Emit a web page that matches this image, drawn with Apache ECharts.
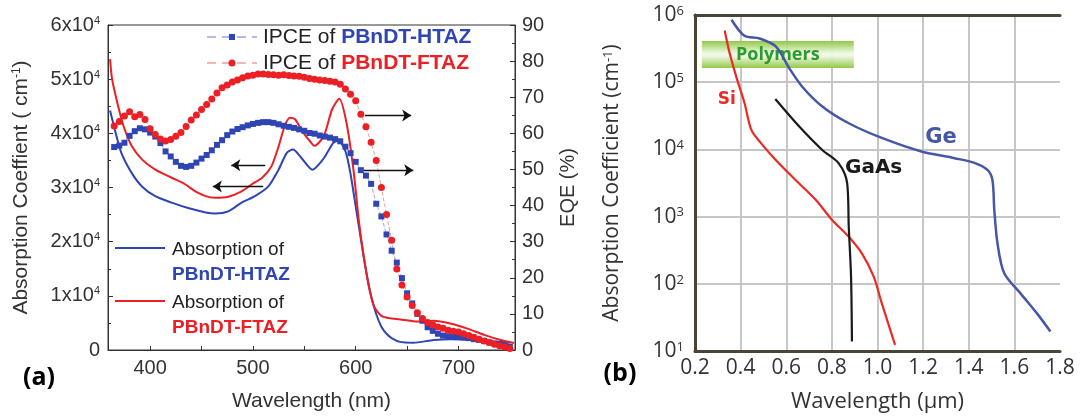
<!DOCTYPE html>
<html>
<head>
<meta charset="utf-8">
<script src="https://cdn.jsdelivr.net/npm/echarts@6/dist/echarts.min.js"></script>
<style>
html,body{margin:0;padding:0;background:#fff;}
#main{width:1081px;height:419px;}
</style>
</head>
<body>
<div id="main"></div>
<script>
// ---------- Panel (a) data ----------
const ipceWavelength = [365,370,375,380,385,390,395,400,405,410,415,420,425,430,435,440,445,450,455,460,465,470,475,480,485,490,495,500,505,510,515,520,525,530,535,540,545,550,555,560,565,570,575,580,585,590,595,600,605,610,615,620,625,630,635,640,645,650,655,660,665,670,675,680,685,690,695,700,705,710,715,720,725,730,735,740,745,750];
const ipceHTAZ = [56.2,56.6,57.4,59.3,60.6,61.4,61.1,60.2,59.1,57.3,55.0,53.6,52.1,51.0,50.7,51.0,51.9,53.0,54.0,55.3,56.8,58.1,59.5,60.5,61.2,61.7,62.2,62.6,62.9,63.1,63.1,62.9,62.5,62.1,61.8,61.5,61.1,60.7,60.1,59.9,59.4,59.1,58.8,58.4,57.8,56.3,54.5,52.1,49.8,48.3,46.0,40.5,37.0,32.0,27.5,24.2,19.9,15.7,12.9,10.0,8.1,6.3,5.3,4.5,4.0,3.8,3.7,3.7,3.5,3.3,3.0,2.8,2.5,2.1,1.8,1.5,1.2,0.9];
const ipceFTAZ = [62.0,63.3,64.8,66.0,64.6,65.2,63.8,61.3,59.7,58.4,57.9,58.3,59.2,60.2,61.9,63.7,65.1,66.6,68.0,69.5,71.2,72.6,73.4,74.2,74.8,75.4,75.9,76.1,76.4,76.4,76.3,76.2,76.1,76.2,76.0,75.9,75.8,75.5,75.2,75.0,74.8,74.6,74.4,74.2,73.6,72.3,70.8,69.0,65.3,61.8,57.5,52.5,45.0,37.5,30.4,22.4,18.0,14.7,12.3,10.3,8.7,7.6,7.0,6.4,6.0,5.5,5.2,5.0,4.5,4.0,3.5,3.0,2.5,2.1,1.6,1.2,0.8,0.4];

const absWavelengthHTAZ = [361,366,372,382,392,405,421,437,454,463,476,489,502,515,525,533,539,547,558,569,578,583,590,595,600,605,610,615,620,625,630,635,643,656,676,692,715,734,750];
const absHTAZ = [44200,40400,36400,32700,30200,28400,27200,26200,25400,25200,25600,27200,28400,30200,33300,36400,37000,35500,33300,35400,38200,38700,36700,32500,26500,20500,14800,10000,6600,4300,3000,2200,1500,1350,1850,2000,1850,1550,1350];

const absWavelengthFTAZ = [361,363,368,374,382,392,405,421,434,444,454,463,476,489,499,509,518,525,531,536,541,548,554,560,569,577,584,591,598,603,608,613,618,625,635,645,660,676,692,708,725,741,754];
const absFTAZ = [53700,50000,45700,41400,37700,35200,33300,31800,30600,29300,28400,28100,28300,29300,30600,31800,33900,37600,41400,42900,42600,40400,38900,37700,39500,44400,46400,42000,33000,24000,17000,11500,8000,6300,5800,5600,5250,5400,4900,4000,2800,1850,1300];

// arrows: [fromWavelength, toWavelength, absorption level]
const arrowsA = [[609,654,43300],[608,656,33200],[512,479,34100],[510,461,30200]];

const xTicksA = [400,450,500,550,600,650,700,750];
const xLabelsA = [400,500,600,700];

// ---------- Panel (b) data ----------
const geWavelength = [0.36,0.417,0.483,0.555,0.613,0.671,0.758,0.874,1.019,1.193,1.338,1.425,1.483,1.504,1.512,1.526,1.555,1.627,1.70,1.758];
const geAbs = [851000,490000,447000,339000,162000,85000,43600,24500,14800,9300,7400,6300,4900,3470,1260,400,145,72,36,19.5];
const siWavelength = [0.33,0.352,0.381,0.417,0.447,0.49,0.555,0.642,0.729,0.801,0.874,0.932,0.983,1.019,1.077];
const siAbs = [589000,269000,120000,49000,19500,12300,6900,3470,1780,891,501,282,129,51,12.3];
const gaasWavelength = [0.552,0.657,0.758,0.83,0.867,0.874,0.884,0.888];
const gaasAbs = [56200,21900,9800,6200,3160,708,129,13.8];

// Polymers band [x1, y1, x2, y2] and text label positions
const polymerBand = [0.23, 410000, 0.896, 162000];
const labelSi = [0.339, 54300];
const labelGaAs = [0.983, 5250];
const labelGe = [1.278, 15100];

const zip = (xs, ys) => xs.map((x, i) => [x, ys[i]]);

const FA = "'Liberation Sans', Arial, sans-serif";
const FB = "'Open Sans', 'DejaVu Sans', sans-serif";
const BLUE = '#2e45b3';
const RED = '#ec1f24';

const chart = echarts.init(document.getElementById('main'));

const option = {
  animation: false,
  backgroundColor: '#fff',
  grid: [
    {left: 108, top: 25, width: 407, height: 325, show: true, borderColor: '#333', borderWidth: 1, containLabel: false},
    {left: 695, top: 15, width: 365, height: 336, show: false, containLabel: false}
  ],
  xAxis: [
    {
      gridIndex: 0, type: 'value', min: 359, max: 755,
      axisLine: {lineStyle: {color: '#333', width: 1}},
      axisTick: {inside: true, length: 4, customValues: xTicksA, lineStyle: {color: '#333'}},
      axisLabel: {customValues: xLabelsA, fontSize: 20, fontFamily: FA, color: '#333', margin: 8},
      splitLine: {show: false},
      name: 'Wavelength (nm)', nameLocation: 'middle', nameGap: 41,
      nameTextStyle: {fontSize: 21, fontFamily: FA, color: '#333'}
    },
    {
      gridIndex: 1, type: 'value', min: 0.2, max: 1.8, interval: 0.2,
      axisLine: {lineStyle: {color: '#4a4336', width: 3}},
      axisTick: {show: false},
      axisLabel: {fontSize: 21, fontFamily: FB, color: '#333', margin: 7, formatter: v => v.toFixed(1)},
      splitLine: {show: true, showMaxLine: false, lineStyle: {color: '#c6c6c6', width: 2}},
      name: 'Wavelength (μm)', nameLocation: 'middle', nameGap: 40,
      nameTextStyle: {fontSize: 22, fontFamily: FB, color: '#333'}
    },
    {
      gridIndex: 1, type: 'value', min: 0.2, max: 1.8, position: 'top',
      axisLine: {lineStyle: {color: '#4a4336', width: 3}},
      axisTick: {show: false}, axisLabel: {show: false}, splitLine: {show: false}
    }
  ],
  yAxis: [
    {
      gridIndex: 0, type: 'value', min: 0, max: 60000, interval: 10000, position: 'left',
      axisLine: {show: true, lineStyle: {color: '#333', width: 1}},
      axisTick: {show: true, inside: true, length: 5, lineStyle: {color: '#333'}},
      minorTick: {show: true, splitNumber: 2, length: 3, lineStyle: {color: '#333'}},
      splitLine: {show: false},
      axisLabel: {
        fontSize: 20, fontFamily: FA, color: '#333', margin: 8,
        formatter: v => v === 0 ? '0' : (v / 10000) + 'x10{s|4}',
        rich: {s: {fontSize: 11, fontFamily: FA, color: '#333', verticalAlign: 'top'}}
      },
      name: 'Absorption Coeffient ( cm{s|-1})', nameLocation: 'middle', nameGap: 76, nameRotate: 90,
      nameTextStyle: {fontSize: 21, fontFamily: FA, color: '#333', rich: {s: {fontSize: 12, fontFamily: FA, color: '#333', verticalAlign: 'top'}}}
    },
    {
      gridIndex: 0, type: 'value', min: 0, max: 90, interval: 10, position: 'right',
      axisLine: {show: true, lineStyle: {color: '#333', width: 1}},
      axisTick: {show: true, inside: true, length: 5, lineStyle: {color: '#333'}},
      minorTick: {show: true, splitNumber: 2, length: 3, lineStyle: {color: '#333'}},
      splitLine: {show: false},
      axisLabel: {fontSize: 20, fontFamily: FA, color: '#333', margin: 7},
      name: 'EQE (%)', nameLocation: 'middle', nameGap: 43, nameRotate: 90,
      nameTextStyle: {fontSize: 20, fontFamily: FA, color: '#333'}
    },
    {
      gridIndex: 1, type: 'log', logBase: 10, min: 10, max: 1000000,
      axisLine: {show: true, lineStyle: {color: '#4a4336', width: 3}},
      axisTick: {show: false},
      splitLine: {show: true, lineStyle: {color: '#c6c6c6', width: 2}},
      axisLabel: {
        fontSize: 21, fontFamily: FB, color: '#333', margin: 11,
        formatter: v => '10{s|' + Math.round(Math.log10(v)) + '}',
        rich: {s: {fontSize: 13, fontFamily: FB, color: '#333', verticalAlign: 'top'}}
      },
      name: 'Absorption Coefficient (cm{s|-1})', nameLocation: 'middle', nameGap: 72, nameRotate: 90,
      nameTextStyle: {fontSize: 21, fontFamily: FB, color: '#333', rich: {s: {fontSize: 13, fontFamily: FB, color: '#333', verticalAlign: 'top'}}}
    }
  ],
  series: [
    {
      name: 'Absorption of PBnDT-HTAZ', type: 'line', xAxisIndex: 0, yAxisIndex: 0,
      data: zip(absWavelengthHTAZ, absHTAZ), symbol: 'none', smooth: 0.25,
      lineStyle: {color: BLUE, width: 2}, z: 2,
      markLine: {
        silent: true, symbol: ['none', 'arrow'], symbolSize: 9,
        label: {show: false},
        lineStyle: {color: '#111', width: 1.3, type: 'solid'},
        emphasis: {disabled: true},
        data: arrowsA.map(a => [{coord: [a[0], a[2]]}, {coord: [a[1], a[2]]}])
      }
    },
    {
      name: 'Absorption of PBnDT-FTAZ', type: 'line', xAxisIndex: 0, yAxisIndex: 0,
      data: zip(absWavelengthFTAZ, absFTAZ), symbol: 'none', smooth: 0.25,
      lineStyle: {color: RED, width: 2}, z: 2
    },
    {
      name: 'IPCE of PBnDT-HTAZ', type: 'line', xAxisIndex: 0, yAxisIndex: 1,
      data: zip(ipceWavelength, ipceHTAZ), symbol: 'rect', symbolSize: 6, showAllSymbol: true,
      lineStyle: {color: '#9ba4e2', width: 1, type: 'dashed'}, itemStyle: {color: BLUE}, z: 3
    },
    {
      name: 'IPCE of PBnDT-FTAZ', type: 'line', xAxisIndex: 0, yAxisIndex: 1,
      data: zip(ipceWavelength, ipceFTAZ), symbol: 'circle', symbolSize: 7, showAllSymbol: true,
      lineStyle: {color: '#f29a9a', width: 1, type: 'dashed'}, itemStyle: {color: RED}, z: 3
    },
    {
      name: 'Ge', type: 'line', xAxisIndex: 1, yAxisIndex: 2,
      data: zip(geWavelength, geAbs), symbol: 'none', smooth: 0.3,
      lineStyle: {color: '#4657a8', width: 2.5},
      markPoint: {
        symbol: 'circle', symbolSize: 0, silent: true,
        label: {show: true, position: 'inside', formatter: 'Ge', color: '#4657a8', fontWeight: 'bold', fontSize: 21, fontFamily: "'DejaVu Sans', sans-serif"},
        data: [{coord: labelGe}]
      }
    },
    {
      name: 'Si', type: 'line', xAxisIndex: 1, yAxisIndex: 2,
      data: zip(siWavelength, siAbs), symbol: 'none', smooth: 0.3,
      lineStyle: {color: '#ec2a24', width: 2.2},
      markPoint: {
        symbol: 'circle', symbolSize: 0, silent: true,
        label: {show: true, position: 'inside', formatter: 'Si', color: '#ec2a24', fontWeight: 'bold', fontSize: 17, fontFamily: "'DejaVu Sans', sans-serif"},
        data: [{coord: labelSi}]
      },
      markArea: {
        silent: true,
        itemStyle: {
          color: new echarts.graphic.LinearGradient(0, 0, 0, 1, [
            {offset: 0, color: '#8cc63e'},
            {offset: 0.45, color: '#eef8e2'},
            {offset: 0.55, color: '#eef8e2'},
            {offset: 1, color: '#8cc63e'}
          ]),
          opacity: 0.95
        },
        label: {show: true, position: 'inside', formatter: 'Polymers', color: '#2c9a2c', fontWeight: 'bold', fontSize: 18, fontFamily: FB},
        data: [[{coord: [polymerBand[0], polymerBand[1]]}, {coord: [polymerBand[2], polymerBand[3]]}]]
      }
    },
    {
      name: 'GaAs', type: 'line', xAxisIndex: 1, yAxisIndex: 2,
      data: zip(gaasWavelength, gaasAbs), symbol: 'none', smooth: 0.3,
      lineStyle: {color: '#1a1a1a', width: 2.2},
      markPoint: {
        symbol: 'circle', symbolSize: 0, silent: true,
        label: {show: true, position: 'inside', formatter: 'GaAs', color: '#1a1a1a', fontWeight: 'bold', fontSize: 20, fontFamily: "'DejaVu Sans', sans-serif"},
        data: [{coord: labelGaAs}]
      }
    }
  ],
  graphic: [
    // IPCE legend
    {type: 'line', shape: {x1: 207, y1: 37, x2: 257, y2: 37}, style: {stroke: '#9ba4e2', lineWidth: 1.5, lineDash: [9, 6]}, z: 10},
    {type: 'rect', shape: {x: 229, y: 34, width: 6, height: 6}, style: {fill: BLUE}, z: 11},
    {type: 'text', x: 263, y: 37, z: 11, style: {text: '{a|IPCE of }{b|PBnDT-HTAZ}', verticalAlign: 'middle',
      rich: {a: {fontSize: 21, fontFamily: FA, fill: '#222'}, b: {fontSize: 21, fontFamily: FA, fontWeight: 'bold', fill: BLUE}}}},
    {type: 'line', shape: {x1: 207, y1: 63, x2: 257, y2: 63}, style: {stroke: '#f29a9a', lineWidth: 1.5, lineDash: [9, 6]}, z: 10},
    {type: 'circle', shape: {cx: 232, cy: 63, r: 3.5}, style: {fill: RED}, z: 11},
    {type: 'text', x: 263, y: 63, z: 11, style: {text: '{a|IPCE of }{b|PBnDT-FTAZ}', verticalAlign: 'middle',
      rich: {a: {fontSize: 21, fontFamily: FA, fill: '#222'}, b: {fontSize: 21, fontFamily: FA, fontWeight: 'bold', fill: RED}}}},
    // Absorption legend
    {type: 'line', shape: {x1: 115, y1: 248, x2: 165, y2: 248}, style: {stroke: BLUE, lineWidth: 2}, z: 10},
    {type: 'text', x: 172, y: 250, z: 11, style: {text: 'Absorption of', verticalAlign: 'middle', fontSize: 19, fontFamily: FA, fill: '#222'}},
    {type: 'text', x: 172, y: 275, z: 11, style: {text: 'PBnDT-HTAZ', verticalAlign: 'middle', fontSize: 19, fontFamily: FA, fontWeight: 'bold', fill: BLUE}},
    {type: 'line', shape: {x1: 115, y1: 301, x2: 165, y2: 301}, style: {stroke: RED, lineWidth: 2}, z: 10},
    {type: 'text', x: 172, y: 303, z: 11, style: {text: 'Absorption of', verticalAlign: 'middle', fontSize: 19, fontFamily: FA, fill: '#222'}},
    {type: 'text', x: 172, y: 328, z: 11, style: {text: 'PBnDT-FTAZ', verticalAlign: 'middle', fontSize: 19, fontFamily: FA, fontWeight: 'bold', fill: RED}},
    // panel letters
    {type: 'text', x: 39, y: 378, z: 11, style: {text: '(a)', align: 'center', verticalAlign: 'middle', fontSize: 25, fontFamily: FB, fontWeight: 'bold', fill: '#000'}},
    {type: 'text', x: 620, y: 374, z: 11, style: {text: '(b)', align: 'center', verticalAlign: 'middle', fontSize: 25, fontFamily: FB, fontWeight: 'bold', fill: '#000'}}
  ]
};
chart.setOption(option);
</script>
</body>
</html>
